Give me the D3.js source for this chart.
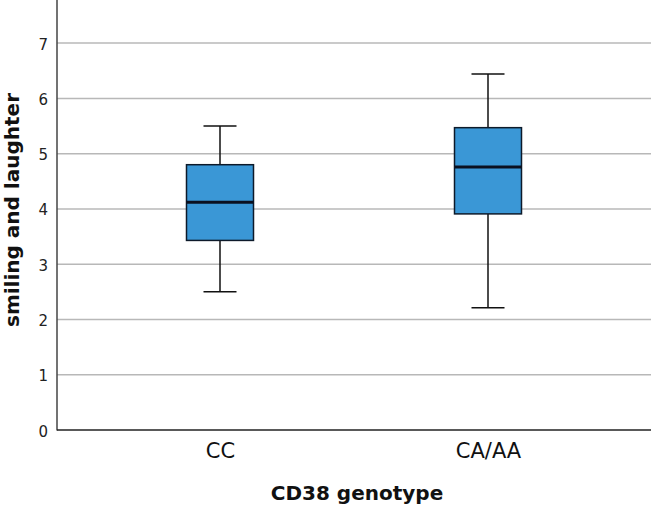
<!DOCTYPE html>
<html><head><meta charset="utf-8">
<script src="https://cdn.jsdelivr.net/npm/d3@7"></script>
<style>body{margin:0;background:#fff}</style>
</head><body>
<script>
const categories = ["CC", "CA/AA"];
const whiskerLow = [2.50, 2.21];
const q1 = [3.43, 3.91];
const medians = [4.12, 4.76];
const q3 = [4.80, 5.47];
const whiskerHigh = [5.50, 6.44];
const yTicks = [0, 1, 2, 3, 4, 5, 6, 7];

(function () {
const W = 651, H = 506;
const mLeft = 57, mRight = 651, mTop = 0, mBottom = 430;
const svg = d3.select("body").append("svg").attr("width", W).attr("height", H);

const y = d3.scaleLinear().domain([0, 7.78]).range([mBottom, mTop]);
const x = d3.scalePoint().domain(categories).range([86, 622]).padding(0.5);

// grid
svg.append("g").selectAll("line").data(yTicks.filter(d => d > 0)).join("line")
  .attr("x1", mLeft).attr("x2", mRight)
  .attr("y1", d => y(d)).attr("y2", d => y(d))
  .attr("stroke", "#b8b8b8").attr("stroke-width", 1.5);

// y axis
const yAxis = d3.axisLeft(y).tickValues(yTicks).tickSize(0).tickPadding(9).tickFormat(d3.format("d"));
const gy = svg.append("g").attr("transform", `translate(${mLeft},0)`).call(yAxis);
gy.select(".domain").remove();
gy.selectAll("text").attr("font-family", "DejaVu Sans").attr("font-size", 15).attr("fill", "#222").attr("dy", "0.4em");

// x axis
const xAxis = d3.axisBottom(x).tickSize(0).tickPadding(13);
const gx = svg.append("g").attr("transform", `translate(0,${mBottom})`).call(xAxis);
gx.select(".domain").remove();
gx.selectAll("text").attr("font-family", "DejaVu Sans").attr("font-size", 21).attr("fill", "#111");

svg.append("line").attr("x1", mLeft).attr("x2", mLeft).attr("y1", 0).attr("y2", mBottom + 0.5)
  .attr("stroke", "#444").attr("stroke-width", 1.5);
svg.append("line").attr("x1", mLeft).attr("x2", mRight).attr("y1", mBottom).attr("y2", mBottom)
  .attr("stroke", "#222").attr("stroke-width", 1.5);

// boxes
const boxW = 67, capW = 33;
const data = categories.map((c, i) => ({c, lo: whiskerLow[i], q1: q1[i], med: medians[i], q3: q3[i], hi: whiskerHigh[i]}));
const g = svg.append("g").selectAll("g").data(data).join("g");
g.append("line").attr("x1", d => x(d.c)).attr("x2", d => x(d.c))
  .attr("y1", d => y(d.hi)).attr("y2", d => y(d.q3)).attr("stroke", "#111").attr("stroke-width", 1.5);
g.append("line").attr("x1", d => x(d.c)).attr("x2", d => x(d.c))
  .attr("y1", d => y(d.q1)).attr("y2", d => y(d.lo)).attr("stroke", "#111").attr("stroke-width", 1.5);
g.append("line").attr("x1", d => x(d.c) - capW / 2).attr("x2", d => x(d.c) + capW / 2)
  .attr("y1", d => y(d.hi)).attr("y2", d => y(d.hi)).attr("stroke", "#111").attr("stroke-width", 1.5);
g.append("line").attr("x1", d => x(d.c) - capW / 2).attr("x2", d => x(d.c) + capW / 2)
  .attr("y1", d => y(d.lo)).attr("y2", d => y(d.lo)).attr("stroke", "#111").attr("stroke-width", 1.5);
g.append("rect").attr("x", d => x(d.c) - boxW / 2).attr("width", boxW)
  .attr("y", d => y(d.q3)).attr("height", d => y(d.q1) - y(d.q3))
  .attr("fill", "#3a97d6").attr("stroke", "#0d1a2a").attr("stroke-width", 1.5);
g.append("line").attr("x1", d => x(d.c) - boxW / 2).attr("x2", d => x(d.c) + boxW / 2)
  .attr("y1", d => y(d.med)).attr("y2", d => y(d.med)).attr("stroke", "#0a1020").attr("stroke-width", 3);

// titles
svg.append("text").attr("x", 357).attr("y", 500).attr("text-anchor", "middle")
  .attr("font-family", "DejaVu Sans").attr("font-weight", "bold").attr("font-size", 20).attr("fill", "#111")
  .text("CD38 genotype");
svg.append("text").attr("transform", "translate(19,210) rotate(-90)").attr("text-anchor", "middle")
  .attr("font-family", "DejaVu Sans").attr("font-weight", "bold").attr("font-size", 20).attr("fill", "#111")
  .text("smiling and laughter");
})();
</script>
</body></html>
